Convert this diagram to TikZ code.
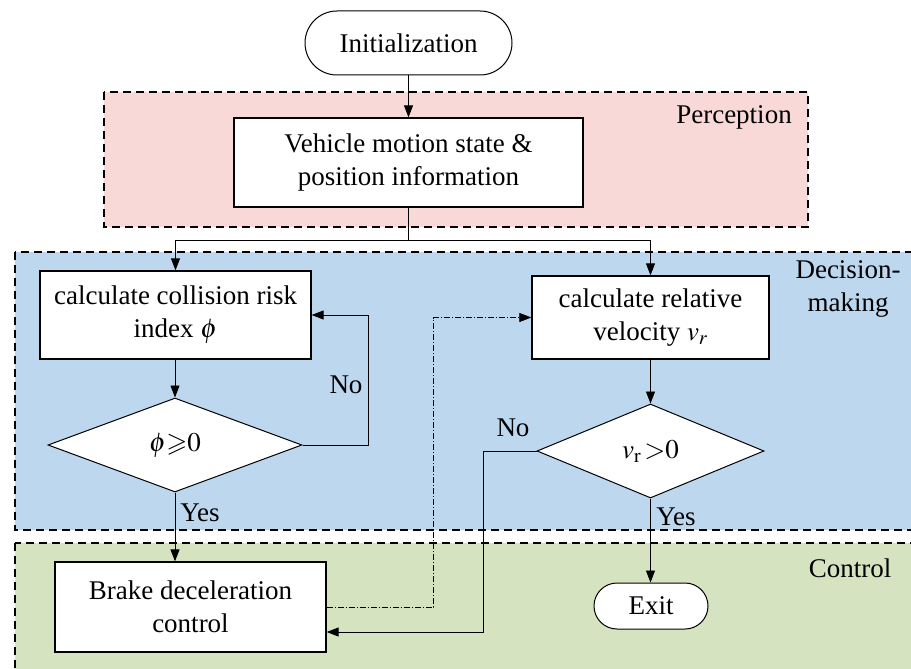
\documentclass[tikz,border=0pt]{standalone}
\usepackage{amssymb}
\usepackage{mathptmx}
\usepackage[no-math]{fontspec}
\setmainfont{Liberation Serif}
\newfontfamily\timesfont{Liberation Serif}
\usetikzlibrary{shapes.geometric,shapes.misc,arrows.meta,calc}
\definecolor{perc}{HTML}{F8D9D8}
\definecolor{deci}{HTML}{BDD7EE}
\definecolor{ctrl}{HTML}{D5E3C0}
\begin{document}
\begin{tikzpicture}[x=1pt,y=-1pt,
  every node/.style={font=\timesfont\fontsize{27}{33}\selectfont},
  region/.style={draw=black,line width=1.6pt,dash pattern=on 8pt off 5pt},
  procbox/.style={draw,fill=white,line width=1.3pt,align=center,inner sep=0pt},
  termbox/.style={draw,fill=white,rounded rectangle,line width=1pt,inner sep=0pt},
  decbox/.style={draw,fill=white,diamond,line width=1pt,inner sep=0pt},
  arr/.style={-{Triangle[length=12pt,width=9pt]},line width=0.9pt},
  conn/.style={line width=0.9pt},
  dd/.style={line width=0.7pt,dash pattern=on 6pt off 2pt on 1pt off 2pt},
  lbl/.style={inner sep=0pt}]
\useasboundingbox (0,0) rectangle (911,669);
\begin{scope}
\clip (0,0) rectangle (911,669);
\filldraw[region,fill=perc] (104,92) rectangle (808,227);
\filldraw[region,fill=deci] (15,252) rectangle (940,530);
\filldraw[region,fill=ctrl] (15,543) rectangle (940,700);
\end{scope}
\node[lbl] (lperc) at (734,117) {Perception};
\node[lbl,align=center] (ldec) at (848,289) {Decision-\\making};
\node[lbl] (lctrl) at (850,568) {Control};

\node[termbox,minimum width=207pt,minimum height=64pt] (init) at (408.5,43) {Initialization};
\node[procbox,minimum width=349pt,minimum height=89pt] (veh) at (408.5,162.5) {Vehicle motion state \&\\position information};
\node[procbox,minimum width=271pt,minimum height=88pt] (cr) at (175.5,315) {calculate collision risk\\index $\phi$};
\node[procbox,minimum width=237pt,minimum height=83pt] (rv) at (650.5,317.5) {calculate relative\\velocity $v_r$};
\node[decbox,minimum width=254pt,minimum height=94pt] (d1) at (175,445) {$\phi{\geqslant}0$};
\node[decbox,minimum width=227pt,minimum height=94pt] (d2) at (650.5,451) {$v_{\mathrm{r}}\,{>}0$};
\node[procbox,minimum width=271pt,minimum height=90pt] (brake) at (190.5,607) {Brake deceleration\\control};
\node[termbox,minimum width=114pt,minimum height=46pt] (exit) at (651,606) {Exit};

\coordinate (split) at (408.5,240);
\draw[arr] (init.south) -- (veh.north);
\draw[conn] (veh.south) -- (split);
\draw[arr] (split) -| (cr.north);
\draw[arr] (split) -| (rv.north);
\draw[arr] (cr.south -| d1.north) -- (d1.north);
\draw[arr] (d1.east) -- ++(66,0) |- (cr.east);
\node[lbl] (no1) at (346,385) {No};
\draw[arr] (d1.south) -- (d1.south |- brake.north);
\node[lbl] (yes1) at (200,513) {Yes};
\draw[arr] (rv.south) -- (d2.north);
\draw[arr] (d2.south) -- (d2.south |- exit.north);
\node[lbl] (yes2) at (676,517) {Yes};
\draw[arr] (d2.west) -- ++(-53,0) |- ($(brake.east)+(0,25)$);
\node[lbl] (no2) at (513,428) {No};
\draw[dd,-{Triangle[length=12pt,width=9pt]}] (brake.east) -- ++(107,0) |- (rv.west);
\end{tikzpicture}
\end{document}
